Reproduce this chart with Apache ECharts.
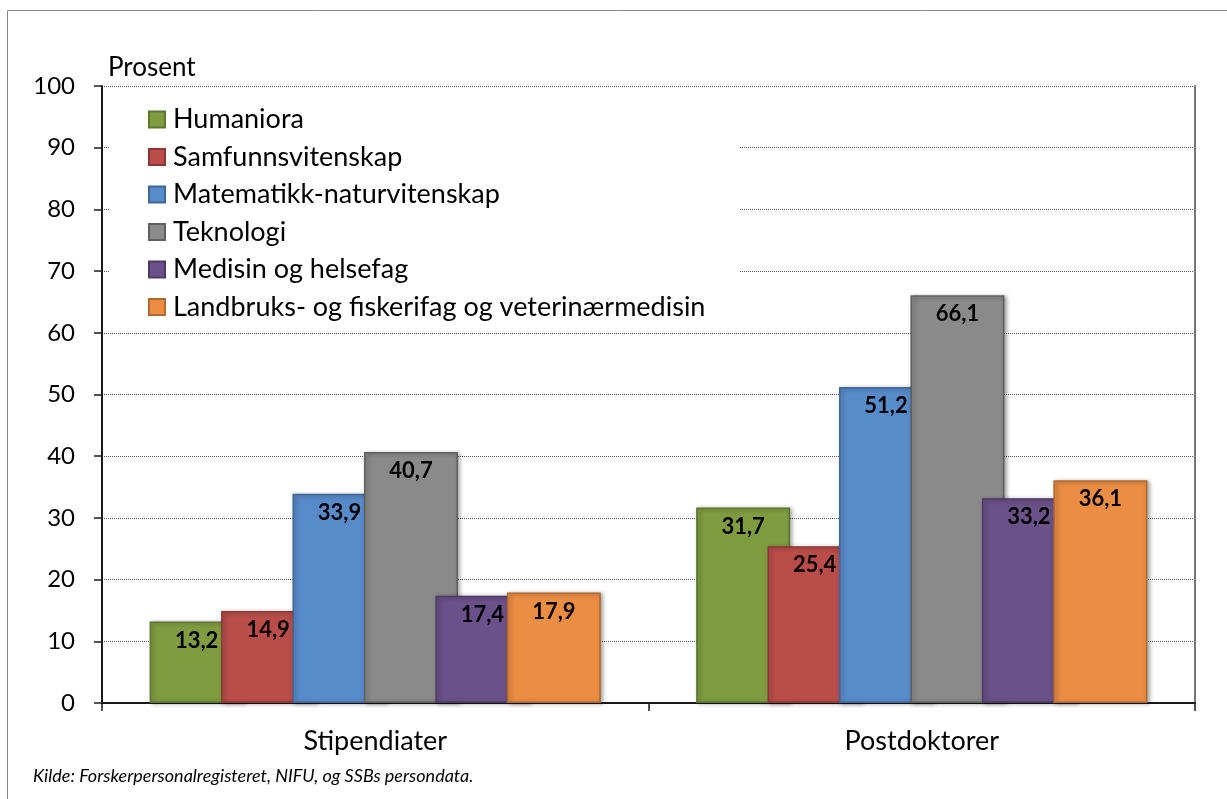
<!DOCTYPE html>
<html>
<head>
<meta charset="utf-8">
<script src="https://cdn.jsdelivr.net/npm/echarts@6/dist/echarts.min.js"></script>
<style>html,body{margin:0;padding:0;background:#fff;}#c{width:1227px;height:799px;}</style>
</head>
<body>
<div id="c"></div>
<script>
const categories = ['Stipendiater', 'Postdoktorer'];
const seriesNames = ['Humaniora', 'Samfunnsvitenskap', 'Matematikk-naturvitenskap', 'Teknologi', 'Medisin og helsefag', 'Landbruks- og fiskerifag og veterinærmedisin'];
const humaniora = [13.2, 31.7];
const samfunn = [14.9, 25.4];
const matnat = [33.9, 51.2];
const teknologi = [40.7, 66.1];
const medisin = [17.4, 33.2];
const landbruk = [17.9, 36.1];
const yTicks = [0, 10, 20, 30, 40, 50, 60, 70, 80, 90, 100];
const colors = ['#7F9C41', '#BA4D4A', '#588BC9', '#8A8A8A', '#6A5189', '#EB8D43'];
const borders = ['#5E7530', '#8A3836', '#3F6795', '#5F5F5F', '#4B3A63', '#B06A31'];
const allValues = [humaniora, samfunn, matnat, teknologi, medisin, landbruk];

const font = 'Lato, "Liberation Sans", sans-serif';
const chart = echarts.init(document.getElementById('c'), null, {renderer: 'canvas'});
const series = seriesNames.map((name, i) => ({
  name: name,
  type: 'bar',
  data: allValues[i],
  barWidth: 94,
  barGap: '-24%',
  barCategoryGap: '17%',
  itemStyle: {
    color: colors[i],
    borderColor: borders[i],
    borderWidth: 1.5,
    shadowBlur: 4,
    shadowOffsetX: 2,
    shadowOffsetY: 1,
    shadowColor: 'rgba(0,0,0,0.35)'
  },
  label: {
    show: true,
    position: 'insideTop',
    distance: 8,
    fontFamily: font,
    fontSize: 22,
    fontWeight: 'bold',
    color: '#000',
    formatter: p => p.value.toFixed(1).replace('.', ',')
  }
}));

chart.setOption({
  animation: false,
  backgroundColor: '#fff',
  textStyle: {fontFamily: font},
  title: {
    text: 'Kilde: Forskerpersonalregisteret, NIFU, og SSBs persondata.',
    left: 33,
    top: 767,
    padding: 0,
    textStyle: {fontFamily: font, fontSize: 18, fontStyle: 'italic', fontWeight: 'normal', color: '#000'}
  },
  graphic: [{
    type: 'rect',
    shape: {x: 7.5, y: 10.5, width: 1240, height: 820},
    style: {fill: 'none', stroke: '#888', lineWidth: 1},
    silent: true,
    z: -1
  }],
  legend: {
    data: seriesNames,
    orient: 'vertical',
    left: 110,
    top: 96,
    padding: [10, 34, 10, 38],
    itemWidth: 16,
    itemHeight: 16,
    itemGap: 10.5,
    icon: 'rect',
    backgroundColor: '#fff',
    z: 10,
    textStyle: {fontFamily: font, fontSize: 27, lineHeight: 27, color: '#000', padding: [0, 0, 0, 3]}
  },
  grid: {left: 102, right: 32, top: 86, bottom: 96},
  xAxis: {
    type: 'category',
    data: categories,
    axisLine: {lineStyle: {color: '#1a1a1a', width: 2}},
    axisTick: {show: true, length: 8, lineStyle: {color: '#1a1a1a', width: 1.5}},
    axisLabel: {fontFamily: font, fontSize: 27, color: '#000', margin: 25}
  },
  yAxis: [{
    type: 'value',
    min: 0,
    max: 100,
    interval: 10,
    name: 'Prosent',
    nameLocation: 'end',
    nameGap: 18,
    nameTextStyle: {fontFamily: font, fontSize: 26, color: '#000', align: 'left', verticalAlign: 'middle', padding: [0, 0, 0, 6]},
    axisLine: {show: true, lineStyle: {color: '#1a1a1a', width: 2}},
    axisTick: {show: true, length: 8, lineStyle: {color: '#1a1a1a', width: 1.5}},
    axisLabel: {fontFamily: font, fontSize: 24, color: '#000', margin: 27,
      formatter: v => (yTicks.indexOf(v) >= 0 ? String(v) : '')},
    splitLine: {show: true, lineStyle: {color: '#555', width: 1, type: 'dotted'}}
  }, {
    type: 'value',
    min: 0,
    max: 100,
    interval: 10,
    position: 'right',
    axisLine: {show: true, lineStyle: {color: '#777', width: 2}},
    axisTick: {show: false},
    axisLabel: {show: false},
    splitLine: {show: false}
  }],
  series: series
});
</script>
</body>
</html>
